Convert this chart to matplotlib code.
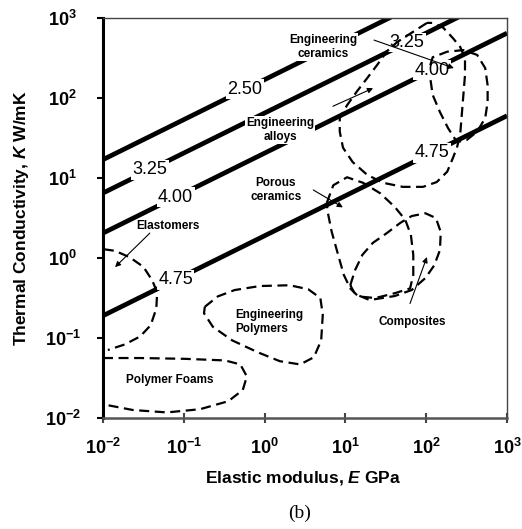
import numpy as np
import matplotlib
matplotlib.use('Agg')
from matplotlib import pyplot as plt

plt.rcParams['font.family'] = ['Liberation Sans', 'DejaVu Sans']
plt.rcParams['mathtext.fontset'] = 'custom'
plt.rcParams['mathtext.default'] = 'regular'
plt.rcParams['mathtext.it'] = 'Liberation Sans:italic:bold'

# axis ticks (both axes span the same decades)
tick_values = [1e-2, 1e-1, 1e0, 1e1, 1e2, 1e3]
tick_labels = [r'$10^{-2}$', r'$10^{-1}$', r'$10^{0}$', r'$10^{1}$', r'$10^{2}$', r'$10^{3}$']

# index lines K = c * E^0.5
index_names = ['2.50', '3.25', '4.00', '4.75']
index_coef = [170, 65, 20.5, 1.9]
# E (GPa) where each number is written on its line
index_label_E = [[0.57], [0.038, 58], [0.079, 118], [0.079, 118]]

# material envelopes, log10(E) and log10(K)
elastomers_logE = [-1.99, -1.85, -1.67, -1.50, -1.39, -1.33, -1.34, -1.41, -1.54, -1.73, -1.94]
elastomers_logK = [0.11, 0.09, 0.01, -0.11, -0.28, -0.43, -0.63, -0.84, -0.98, -1.08, -1.15]

foams_logE = [-2.00, -1.54, -0.99, -0.49, -0.30, -0.22, -0.27, -0.45, -0.80, -1.21, -1.63, -1.94]
foams_logK = [-1.25, -1.25, -1.26, -1.28, -1.33, -1.48, -1.65, -1.79, -1.89, -1.93, -1.90, -1.84]

polymers_logE = [-0.74, -0.58, -0.37, -0.06, 0.31, 0.54, 0.69, 0.72, 0.70, 0.61, 0.44, 0.19,
                 -0.08, -0.40, -0.64, -0.75, -0.74]
polymers_logK = [-0.61, -0.48, -0.40, -0.35, -0.34, -0.39, -0.50, -0.71, -1.03, -1.24, -1.33, -1.29,
                 -1.18, -1.03, -0.86, -0.69, -0.61]

porous_logE = [0.77, 0.85, 1.02, 1.22, 1.43, 1.61, 1.74, 1.81, 1.84, 1.84, 1.80, 1.61, 1.37,
               1.16, 1.06, 0.98, 0.91, 0.83, 0.78, 0.77]
porous_logK = [0.69, 0.91, 1.01, 0.94, 0.81, 0.64, 0.48, 0.29, 0.04, -0.21, -0.38, -0.44, -0.50,
               -0.48, -0.38, -0.21, 0.04, 0.33, 0.58, 0.69]

composites_logE = [1.06, 1.12, 1.21, 1.34, 1.51, 1.68, 1.82, 1.99, 2.12, 2.18, 2.17, 2.10, 1.99,
                   1.82, 1.61, 1.30, 1.12, 1.06]
composites_logK = [-0.34, -0.15, 0.04, 0.19, 0.31, 0.44, 0.525, 0.56, 0.50, 0.325, 0.10, -0.09,
                   -0.25, -0.40, -0.475, -0.525, -0.45, -0.34]

alloys_logE = [2.01, 1.84, 1.64, 1.51, 1.39, 1.27, 1.14, 1.02, 0.93, 0.93, 0.97, 1.09, 1.27, 1.47,
               1.71, 1.96, 2.13, 2.26, 2.33, 2.38, 2.42, 2.44, 2.46, 2.48, 2.48, 2.42, 2.33, 2.21,
               2.08, 2.01]
alloys_logK = [2.94, 2.83, 2.70, 2.58, 2.41, 2.25, 2.08, 1.91, 1.75, 1.58, 1.38, 1.20, 1.04, 0.94,
               0.89, 0.89, 0.95, 1.08, 1.25, 1.38, 1.54, 1.79, 2.04, 2.29, 2.50, 2.64, 2.75, 2.88,
               2.94, 2.94]

ceramics_logE = [2.05, 2.08, 2.26, 2.46, 2.63, 2.73, 2.76, 2.76, 2.73, 2.63, 2.50, 2.38, 2.27,
                 2.17, 2.08, 2.05]
ceramics_logK = [2.41, 2.51, 2.58, 2.60, 2.54, 2.375, 2.16, 1.95, 1.75, 1.58, 1.475, 1.45, 1.625,
                 1.825, 2.04, 2.25]

envelopes = [
    (elastomers_logE, elastomers_logK),
    (foams_logE, foams_logK),
    (polymers_logE, polymers_logK),
    (porous_logE, porous_logK),
    (composites_logE, composites_logK),
    (alloys_logE, alloys_logK),
    (ceramics_logE, ceramics_logK),
]

# region names: text, (E, K) of the text, arrow from, arrow to
region_names = ['Engineering\nceramics', 'Engineering\nalloys', 'Porous\nceramics',
                'Elastomers', 'Engineering\nPolymers', 'Polymer Foams', 'Composites']
region_pos = [(5.3, 435), (1.55, 40), (1.38, 7.1), (0.063, 2.5), (1.13, 0.158), (0.067, 0.030), (67, 0.158)]
arrow_from = [(22.6, 531), (7.0, 79), (4.0, 7.1), (0.038, 2.05), None, None, (63, 0.27)]
arrow_to = [(220, 237), (22, 133), (9.3, 4.3), (0.0141, 0.77), None, None, (102, 1.03)]
boxed = [True, True, False, False, False, False, False]


fig = plt.figure(figsize=(5.22, 5.29), dpi=100)
ax = fig.add_axes([0.1973, 0.2098, 0.774, 0.756])
ax.set_xscale('log')
ax.set_yscale('log')
ax.set_xlim(1e-2, 1e3)
ax.set_ylim(1e-2, 1e3)

E = np.logspace(-2, 3, 200)
for name, c, label_E in zip(index_names, index_coef, index_label_E):
    ax.plot(E, c * np.sqrt(E), color='black', lw=3.4, solid_capstyle='butt', zorder=2)
    for e in label_E:
        ax.text(e, c * np.sqrt(e), name, fontsize=13, ha='center', va='center', zorder=3,
                bbox=dict(boxstyle='square,pad=0.08', fc='white', ec='none'))

for logE, logK in envelopes:
    ax.plot(10 ** np.array(logE), 10 ** np.array(logK), color='black', lw=1.6,
            ls=(0, (4.5, 2.5)), zorder=4)

for name, pos, a0, a1, box in zip(region_names, region_pos, arrow_from, arrow_to, boxed):
    kw = {}
    if box:
        kw['bbox'] = dict(boxstyle='square,pad=0.1', fc='white', ec='none')
    ax.text(pos[0], pos[1], name, fontsize=8.5, fontweight='bold', ha='center', va='center',
            multialignment='center' if 'Polymers' not in name else 'left', zorder=3, **kw)
    if a0 is not None:
        ax.annotate('', xy=a1, xytext=a0, zorder=5,
                    arrowprops=dict(arrowstyle='-|>', lw=0.8, color='black', mutation_scale=8,
                                    shrinkA=0, shrinkB=0))

ax.minorticks_off()
ax.set_xticks(tick_values)
ax.set_xticklabels(tick_labels, fontsize=13, fontweight='bold')
ax.set_yticks(tick_values)
ax.set_yticklabels(tick_labels, fontsize=13, fontweight='bold', ha='center')
ax.tick_params(axis='x', direction='inout', length=7, width=1.5, pad=11, color='#444444')
ax.tick_params(axis='y', direction='out', length=4, width=1.5, pad=25)

ax.spines['left'].set_linewidth(2.2)
ax.spines['left'].set_color('black')
ax.spines['bottom'].set_linewidth(1.8)
ax.spines['bottom'].set_color('#555555')
ax.spines['top'].set_linewidth(1)
ax.spines['top'].set_color('#444444')
ax.spines['right'].set_linewidth(1)
ax.spines['right'].set_color('#444444')

fig.text(0.581, 0.0964, 'Elastic modulus, $\\mathit{E}$ GPa', fontsize=12.5, fontweight='bold',
         ha='center', va='center')
fig.text(0.042, 0.588, 'Thermal Conductivity, $\\mathit{K}$ W/mK', fontsize=12.5, fontweight='bold',
         ha='center', va='center', rotation=90)
fig.text(0.573, 0.030, '(b)', fontsize=14, family='Liberation Serif', ha='center', va='center')

fig.savefig('out.png', dpi=100)
